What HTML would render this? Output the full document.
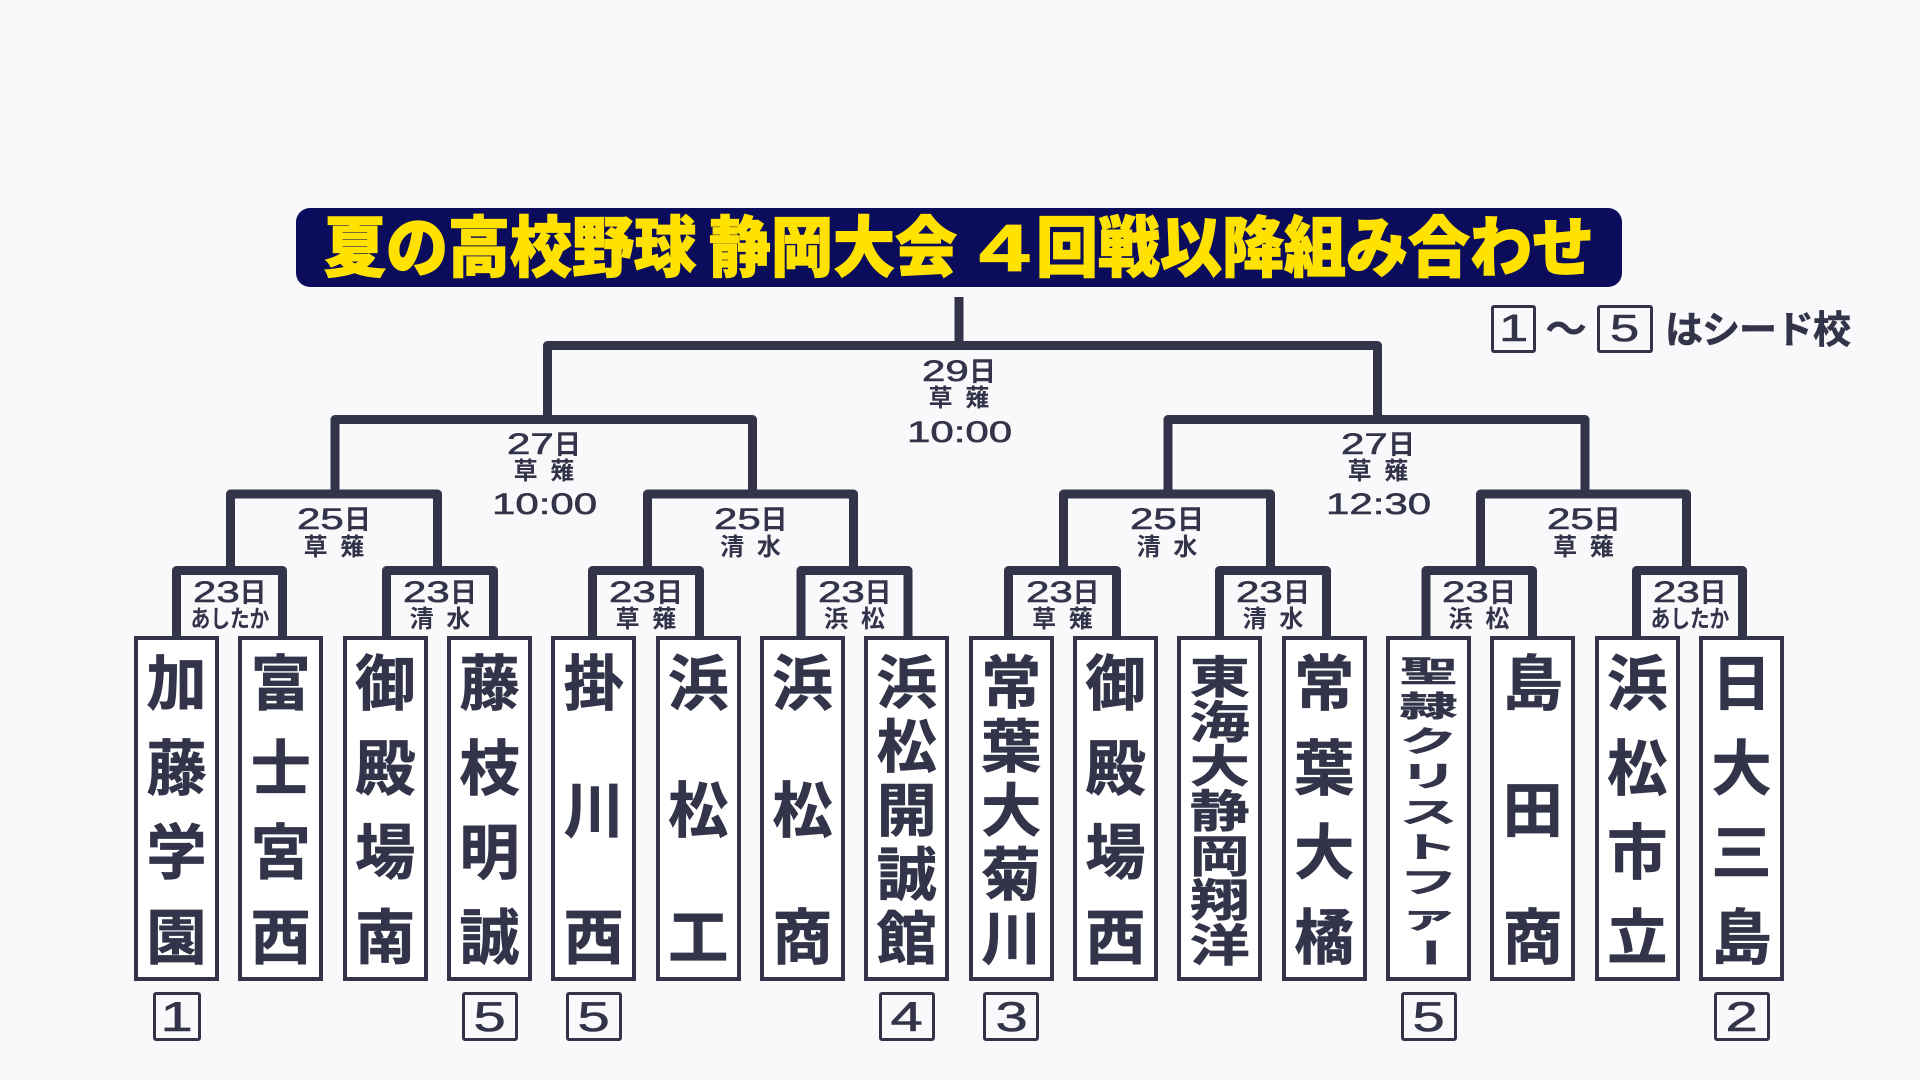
<!DOCTYPE html>
<html lang="ja">
<head>
<meta charset="utf-8">
<style>
*{margin:0;padding:0;box-sizing:border-box;}
html,body{width:1920px;height:1080px;overflow:hidden;background:#f9f9fb;}
body{position:relative;font-family:"Liberation Sans","Noto Sans CJK JP",sans-serif;color:#33344a;}
.title{position:absolute;left:296px;top:208px;width:1326px;height:79px;background:#0b0c5b;border-radius:14px;}
.tt{position:absolute;top:218.6px;height:62px;line-height:62px;font-size:62px;font-weight:900;color:#ffe200;white-space:pre;transform:scaleY(1.06);font-family:"Liberation Sans","Noto Sans CJK JP",sans-serif;-webkit-text-stroke:1.2px #ffe200;}
.bx{position:absolute;top:636px;width:85px;height:345px;border:4px solid #33344a;background:#fff;}
.nm{position:absolute;top:658px;height:308px;width:85px;display:flex;flex-direction:column;justify-content:space-between;align-items:center;font-weight:700;font-size:60px;color:#33344a;-webkit-text-stroke:0.8px #33344a;}
.nm div{text-align:center;width:85px;white-space:nowrap;}
.s1 div{height:54px;line-height:54px;}
.s5 div{height:52px;line-height:52px;transform:scaleY(.96);}
.s7 div{height:40px;line-height:40px;transform:scaleY(.74);}
.s9 div{height:27px;line-height:27px;font-size:58px;transform:scaleY(.5);}
.s9 div.bar{transform:scaleY(.5) rotate(90deg);}
.ln{position:absolute;width:200px;text-align:center;white-space:nowrap;color:#33344a;}
.d{height:30px;line-height:30px;font-size:30px;-webkit-text-stroke:0.6px #33344a;}
.n{display:inline-block;text-align:left;}
.n>span{display:inline-block;transform:scaleX(1.4);transform-origin:0 50%;}
.k{font-size:27px;font-weight:700;-webkit-text-stroke:0;}
.j{height:24px;line-height:24px;font-size:24px;font-weight:700;letter-spacing:3px;padding-left:3px;}
.kana{letter-spacing:0;padding-left:0;transform:scaleX(.82);}
.seed{position:absolute;top:992px;height:49px;border:3px solid #33344a;border-radius:3px;text-align:center;font-size:42px;line-height:43px;color:#33344a;-webkit-text-stroke:0.6px #33344a;}
.seed span,.lg span{display:inline-block;transform:scaleX(1.38);}
.lg{position:absolute;top:305px;height:48px;border:3px solid #33344a;border-radius:3px;text-align:center;font-size:38px;line-height:42px;color:#33344a;-webkit-text-stroke:0.6px #33344a;}
</style>
</head>
<body>

<div class="title"></div>
<div class="tt" style="left:324px;">夏の高校野球 </div>
<div class="tt" style="left:709px;">静岡大会 </div>
<div class="tt" style="left:954.5px;width:100px;text-align:center;"><span style="display:inline-block;transform:scaleX(1.45);">4</span></div>
<div class="tt" style="left:1036px;">回戦以降組み合わせ</div>

<svg width="1920" height="1080" style="position:absolute;left:0;top:0;" fill="none" stroke="#33344a" stroke-width="9" stroke-linejoin="round">
<path d="M959 297 V345.5"/>
<path d="M547.5 419.5 V345.5 H1377.5 V419.5"/>
<path d="M335 494 V419.5 H752.5 V494"/>
<path d="M1168 494 V419.5 H1585 V494"/>
<path d="M230.5 570.5 V494 H437.5 V570.5"/>
<path d="M647.5 570.5 V494 H853.5 V570.5"/>
<path d="M1063.5 570.5 V494 H1270.5 V570.5"/>
<path d="M1480.5 570.5 V494 H1686.5 V570.5"/>
<path d="M176.5 636 V570.5 H282.5 V636"/>
<path d="M386.5 636 V570.5 H493.5 V636"/>
<path d="M592.5 636 V570.5 H699.5 V636"/>
<path d="M801 636 V570.5 H908 V636"/>
<path d="M1008.5 636 V570.5 H1116.5 V636"/>
<path d="M1219.5 636 V570.5 H1326.5 V636"/>
<path d="M1426 636 V570.5 H1532.5 V636"/>
<path d="M1636.5 636 V570.5 H1742.5 V636"/>
</svg>

<!-- legend -->
<div class="lg" style="left:1491px;width:45px;"><span>1</span></div>
<div class="ln" style="left:1516px;width:100px;top:309.4px;height:42px;line-height:42px;font-size:42px;font-weight:700;">～</div>
<div class="lg" style="left:1597px;width:56px;"><span>5</span></div>
<div style="position:absolute;left:1665px;top:311.8px;height:38px;line-height:38px;font-size:38px;font-weight:700;letter-spacing:-1px;white-space:nowrap;-webkit-text-stroke:0.6px #33344a;">はシード校</div>

<!-- 29 -->
<div class="ln d" style="left:859px;top:356.6px;"><span class="n" style="width:47px"><span>29</span></span><span class="k">日</span></div>
<div class="ln j" style="left:859px;top:387.3px;">草 薙</div>
<div class="ln d" style="left:859px;top:417.6px;"><span class="n" style="width:105px"><span>10:00</span></span></div>

<!-- 27 L -->
<div class="ln d" style="left:444px;top:429.6px;"><span class="n" style="width:47px"><span>27</span></span><span class="k">日</span></div>
<div class="ln j" style="left:444px;top:460.3px;">草 薙</div>
<div class="ln d" style="left:444px;top:489.6px;"><span class="n" style="width:105px"><span>10:00</span></span></div>

<!-- 27 R -->
<div class="ln d" style="left:1278px;top:429.6px;"><span class="n" style="width:47px"><span>27</span></span><span class="k">日</span></div>
<div class="ln j" style="left:1278px;top:460.3px;">草 薙</div>
<div class="ln d" style="left:1278px;top:489.6px;"><span class="n" style="width:105px"><span>12:30</span></span></div>

<!-- 25 -->
<div class="ln d" style="left:234px;top:504.6px;"><span class="n" style="width:47px"><span>25</span></span><span class="k">日</span></div>
<div class="ln j" style="left:234px;top:536.3px;">草 薙</div>
<div class="ln d" style="left:650.5px;top:504.6px;"><span class="n" style="width:47px"><span>25</span></span><span class="k">日</span></div>
<div class="ln j" style="left:650.5px;top:536.3px;">清 水</div>
<div class="ln d" style="left:1067px;top:504.6px;"><span class="n" style="width:47px"><span>25</span></span><span class="k">日</span></div>
<div class="ln j" style="left:1067px;top:536.3px;">清 水</div>
<div class="ln d" style="left:1483.5px;top:504.6px;"><span class="n" style="width:47px"><span>25</span></span><span class="k">日</span></div>
<div class="ln j" style="left:1483.5px;top:536.3px;">草 薙</div>

<!-- 23 -->
<div class="ln d" style="left:129.5px;top:577.6px;"><span class="n" style="width:47px"><span>23</span></span><span class="k">日</span></div>
<div class="ln j kana" style="left:129.5px;top:607.8px;">あしたか</div>
<div class="ln d" style="left:340px;top:577.6px;"><span class="n" style="width:47px"><span>23</span></span><span class="k">日</span></div>
<div class="ln j" style="left:340px;top:607.8px;">清 水</div>
<div class="ln d" style="left:546px;top:577.6px;"><span class="n" style="width:47px"><span>23</span></span><span class="k">日</span></div>
<div class="ln j" style="left:546px;top:607.8px;">草 薙</div>
<div class="ln d" style="left:754.5px;top:577.6px;"><span class="n" style="width:47px"><span>23</span></span><span class="k">日</span></div>
<div class="ln j" style="left:754.5px;top:607.8px;">浜 松</div>
<div class="ln d" style="left:962.5px;top:577.6px;"><span class="n" style="width:47px"><span>23</span></span><span class="k">日</span></div>
<div class="ln j" style="left:962.5px;top:607.8px;">草 薙</div>
<div class="ln d" style="left:1173px;top:577.6px;"><span class="n" style="width:47px"><span>23</span></span><span class="k">日</span></div>
<div class="ln j" style="left:1173px;top:607.8px;">清 水</div>
<div class="ln d" style="left:1379px;top:577.6px;"><span class="n" style="width:47px"><span>23</span></span><span class="k">日</span></div>
<div class="ln j" style="left:1379px;top:607.8px;">浜 松</div>
<div class="ln d" style="left:1589.5px;top:577.6px;"><span class="n" style="width:47px"><span>23</span></span><span class="k">日</span></div>
<div class="ln j kana" style="left:1589.5px;top:607.8px;">あしたか</div>

<!-- boxes -->
<div class="bx" style="left:134px;"></div>
<div class="nm s1" style="left:134px;"><div>加</div><div>藤</div><div>学</div><div>園</div></div>
<div class="bx" style="left:238.3px;"></div>
<div class="nm s1" style="left:238.3px;"><div>富</div><div>士</div><div>宮</div><div>西</div></div>
<div class="bx" style="left:342.7px;"></div>
<div class="nm s1" style="left:342.7px;"><div>御</div><div>殿</div><div>場</div><div>南</div></div>
<div class="bx" style="left:447px;"></div>
<div class="nm s1" style="left:447px;"><div>藤</div><div>枝</div><div>明</div><div>誠</div></div>
<div class="bx" style="left:551.3px;"></div>
<div class="nm s1" style="left:551.3px;"><div>掛</div><div>川</div><div>西</div></div>
<div class="bx" style="left:655.7px;"></div>
<div class="nm s1" style="left:655.7px;"><div>浜</div><div>松</div><div>工</div></div>
<div class="bx" style="left:760px;"></div>
<div class="nm s1" style="left:760px;"><div>浜</div><div>松</div><div>商</div></div>
<div class="bx" style="left:864.3px;"></div>
<div class="nm s5" style="left:864.3px;"><div>浜</div><div>松</div><div>開</div><div>誠</div><div>館</div></div>
<div class="bx" style="left:968.7px;"></div>
<div class="nm s5" style="left:968.7px;"><div>常</div><div>葉</div><div>大</div><div>菊</div><div>川</div></div>
<div class="bx" style="left:1073px;"></div>
<div class="nm s1" style="left:1073px;"><div>御</div><div>殿</div><div>場</div><div>西</div></div>
<div class="bx" style="left:1177.3px;"></div>
<div class="nm s7" style="left:1177.3px;"><div>東</div><div>海</div><div>大</div><div>静</div><div>岡</div><div>翔</div><div>洋</div></div>
<div class="bx" style="left:1281.7px;"></div>
<div class="nm s1" style="left:1281.7px;"><div>常</div><div>葉</div><div>大</div><div>橘</div></div>
<div class="bx" style="left:1386px;"></div>
<div class="nm s9" style="left:1386px;"><div>聖</div><div>隷</div><div>ク</div><div>リ</div><div>ス</div><div>ト</div><div>フ</div><div>ァ</div><div class="bar">ー</div></div>
<div class="bx" style="left:1490.3px;"></div>
<div class="nm s1" style="left:1490.3px;"><div>島</div><div>田</div><div>商</div></div>
<div class="bx" style="left:1594.7px;"></div>
<div class="nm s1" style="left:1594.7px;"><div>浜</div><div>松</div><div>市</div><div>立</div></div>
<div class="bx" style="left:1699px;"></div>
<div class="nm s1" style="left:1699px;"><div>日</div><div>大</div><div>三</div><div>島</div></div>

<!-- seeds -->
<div class="seed" style="left:152.5px;width:48px;"><span>1</span></div>
<div class="seed" style="left:461.5px;width:56px;"><span>5</span></div>
<div class="seed" style="left:565.8px;width:56px;"><span>5</span></div>
<div class="seed" style="left:878.8px;width:56px;"><span>4</span></div>
<div class="seed" style="left:983.2px;width:56px;"><span>3</span></div>
<div class="seed" style="left:1400.5px;width:56px;"><span>5</span></div>
<div class="seed" style="left:1713.5px;width:56px;"><span>2</span></div>

</body>
</html>
